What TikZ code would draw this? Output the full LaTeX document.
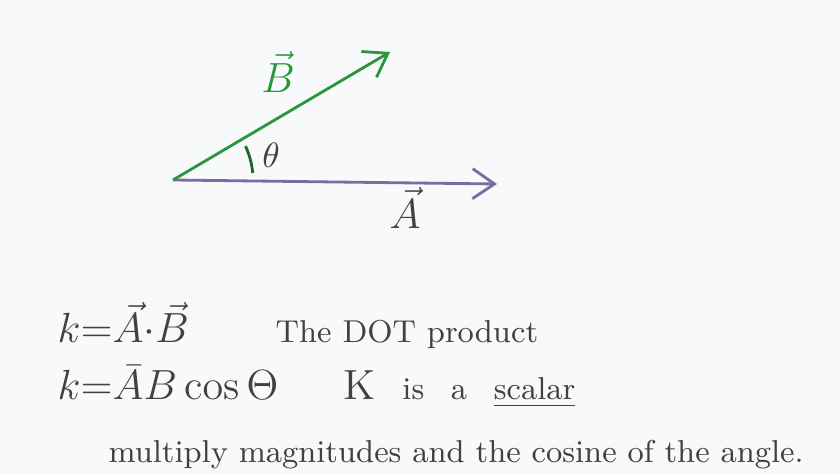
\documentclass[tikz,border=0pt]{standalone}
\usepackage{xcolor}
\usepackage{tikz}
\usetikzlibrary{arrows.meta, positioning, calc}
\definecolor{kertas}{RGB}{248, 249, 250}
\definecolor{hijau}{RGB}{40, 150, 60}
\definecolor{ungu}{RGB}{120, 108, 160}
\definecolor{tinta}{RGB}{65, 65, 65}

\begin{document}
\begin{tikzpicture}[
    font=\small,
    vekA/.style={ungu, thick, -{Straight Barb[length=2.2mm, width=3mm]}},
    vekB/.style={hijau, thick, -{Straight Barb[length=2.2mm, width=3mm]}},
    label/.style={inner sep=0pt, font=\large},
    teks/.style={anchor=base west, inner sep=0pt, text=tinta}
  ]
    \fill[kertas] (0,0) rectangle (8.4,4.74);
    \useasboundingbox (0,0) rectangle (8.4,4.74);
    \coordinate (o) at (1.73,2.94);
    \coordinate (ujungA) at (4.97,2.90);
    \coordinate (ujungB) at (3.90,4.22);
    \draw[vekA] (o) -- (ujungA);
    \draw[vekB] (o) -- (ujungB);
    \draw[hijau!70!black, thick] ([shift={(5:0.8)}]o) arc (5:25:0.8);
    \node[label, hijau] (lblB) at (2.78,4.02) {$\vec{B}$};
    \node[label, tinta] (lblA) at (4.05,2.66) {$\vec{A}$};
    \node[label, tinta, font=\normalsize] (theta) at (2.71,3.19) {$\theta$};
    \node[teks, font=\large] (dot) at (0.57,1.31) {$k{=}\vec{A}{\cdot}\vec{B}$};
    \node[teks] (dotlbl) at (2.75,1.31) {The DOT product};
    \node[teks, font=\large] (cos) at (0.57,0.74) {$k{=}\bar{A}B\,\mathrm{cos}\,\Theta$};
    \node[teks] (skalar) at (3.43,0.74) {{\large K}\enspace\ is\enspace\ a\enspace\ \underline{scalar}};
    \node[teks] (kali) at (1.08,0.11) {multiply magnitudes and the cosine of the angle.};
  \end{tikzpicture}
\end{document}
